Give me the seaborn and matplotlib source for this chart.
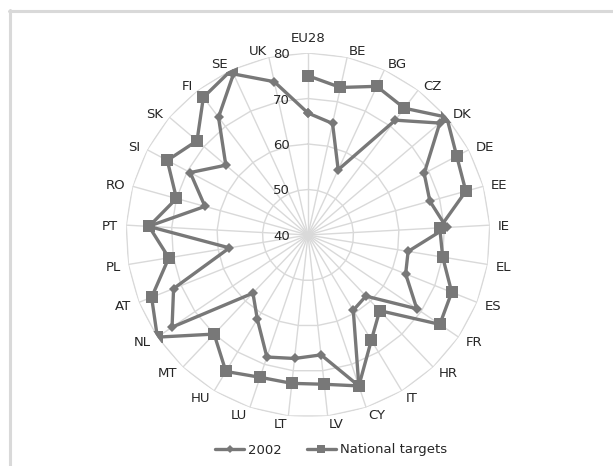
import numpy as np
import pandas as pd
import matplotlib
matplotlib.use("Agg")
import matplotlib.pyplot as plt
import matplotlib.transforms as mtransforms
from matplotlib.lines import Line2D
import seaborn as sns

# ---------------- data ----------------
categories = ['EU28', 'BE', 'BG', 'CZ', 'DK', 'DE', 'EE', 'IE', 'EL', 'ES', 'FR', 'HR',
              'IT', 'CY', 'LV', 'LT', 'LU', 'HU', 'MT', 'NL', 'AT', 'PL', 'PT', 'RO',
              'SI', 'SK', 'FI', 'SE', 'UK']
values_2002 = [66.8, 65.1, 55.8, 71.7, 78.0, 68.9, 67.8, 70.5, 62.3, 63.1, 68.9, 58.5,
               59.3, 75.0, 66.5, 67.3, 68.3, 61.6, 57.6, 76.1, 71.8, 57.5, 75.1, 63.5,
               69.3, 63.7, 72.5, 79.0, 74.5]
national_targets = [75.0, 73.2, 76.0, 75.0, 80.0, 77.0, 76.0, 69.0, 70.0, 74.0, 75.0, 62.9,
                    67.0, 75.0, 73.0, 72.8, 73.0, 75.0, 70.0, 80.0, 77.0, 71.0, 75.0, 70.0,
                    75.0, 72.0, 78.0, 80.0, np.nan]
radial_ticks = [40, 50, 60, 70, 80]
series_names = ['2002', 'National targets']

# ---------------- style ----------------
sns.set_theme(style='white')
plt.rcParams['font.family'] = ['DejaVu Sans']
LINE = '#787878'
GRID = '#d9d9d9'
TEXT = '#262626'
FS = 9.5

W, H = 613, 466
fig = plt.figure(figsize=(W / 100, H / 100), dpi=100)
fig.patch.set_facecolor('white')

cx, cy, R = 308, 235, 182
ax = fig.add_axes([(cx - R) / W, (H - cy - R) / H, 2 * R / W, 2 * R / H], projection='polar')
ax.set_theta_zero_location('N')
ax.set_theta_direction(-1)
ax.set_ylim(radial_ticks[0], radial_ticks[-1])
ax.set_facecolor('none')
ax.spines['polar'].set_visible(False)
ax.grid(False)

n = len(categories)
thetas = np.arange(n) * 2 * np.pi / n

# polygon grid + spokes
ring_theta = np.append(thetas, 2 * np.pi)
for rv in radial_ticks[1:]:
    ax.plot(ring_theta, [rv] * (n + 1), color=GRID, lw=1.0, zorder=1)
for th in thetas:
    ax.plot([th, th], [radial_ticks[0], radial_ticks[-1]], color=GRID, lw=1.0, zorder=1)


def runs(vals):
    """contiguous non-NaN runs around the ring (closed if no gaps)."""
    vals = np.asarray(vals, float)
    if not np.isnan(vals).any():
        idx = list(range(n)) + [0]
        th = list(thetas) + [2 * np.pi]
        return [(th, [vals[i] for i in idx])]
    start = int(np.where(np.isnan(vals))[0][0]) + 1
    order = [(start + k) % n for k in range(n)]
    out, cur_t, cur_v = [], [], []
    for i in order:
        if np.isnan(vals[i]):
            if cur_t:
                out.append((cur_t, cur_v))
            cur_t, cur_v = [], []
        else:
            cur_t.append(thetas[i] + (2 * np.pi if i < start else 0))
            cur_v.append(vals[i])
    if cur_t:
        out.append((cur_t, cur_v))
    return out


styles = {'2002': dict(marker='D', markersize=5.6),
          'National targets': dict(marker='s', markersize=8.5)}
for name, vals in zip(series_names, [values_2002, national_targets]):
    for th, vv in runs(vals):
        df = pd.DataFrame({'theta': th, 'value': vv})
        sns.lineplot(data=df, x='theta', y='value', ax=ax, sort=False, color=LINE,
                     lw=2.4, markeredgewidth=0, zorder=3, **styles[name])

ax.set_xlabel('')
ax.set_ylabel('')
ax.set_xticks([])
ax.set_yticks([])

# category labels
for cat, th in zip(categories, thetas):
    s, c = np.sin(th), np.cos(th)
    if abs(s) < 1e-6:
        ha, dx, dy = 'center', 0.0, 16.0
    else:
        ha = 'left' if s > 0 else 'right'
        dx, dy = 8 * s, 7 * c
    tr = ax.transData + mtransforms.ScaledTranslation(dx / 100, dy / 100, fig.dpi_scale_trans)
    ax.text(th, radial_ticks[-1], cat, transform=tr, ha=ha, va='center_baseline',
            fontsize=FS, color=TEXT, clip_on=False)

# radial tick labels
tr = ax.transData + mtransforms.ScaledTranslation(-18 / 100, 0, fig.dpi_scale_trans)
for rv in radial_ticks:
    ax.text(0, rv, str(rv), transform=tr, ha='right', va='center_baseline',
            fontsize=FS, color=TEXT, clip_on=False)

# legend
handles = [Line2D([], [], color=LINE, lw=2.4, marker='D', markersize=3.8, markeredgewidth=0),
           Line2D([], [], color=LINE, lw=2.4, marker='s', markersize=5.8, markeredgewidth=0)]
fig.legend(handles, series_names, loc='center', bbox_to_anchor=(331 / W, 1 - 450 / H),
           ncol=2, frameon=False, fontsize=FS, handlelength=2.2, handletextpad=0.3,
           columnspacing=1.9, labelcolor=TEXT)

# chart-area border (top and left edges visible)
fig.add_artist(Line2D([8.5 / W, 1], [1 - 11 / H, 1 - 11 / H], transform=fig.transFigure,
                      color=GRID, lw=2.2))
fig.add_artist(Line2D([9.5 / W, 9.5 / W], [0, 1 - 10 / H], transform=fig.transFigure,
                      color=GRID, lw=2.2))

fig.savefig('out.png', dpi=100, facecolor='white')
